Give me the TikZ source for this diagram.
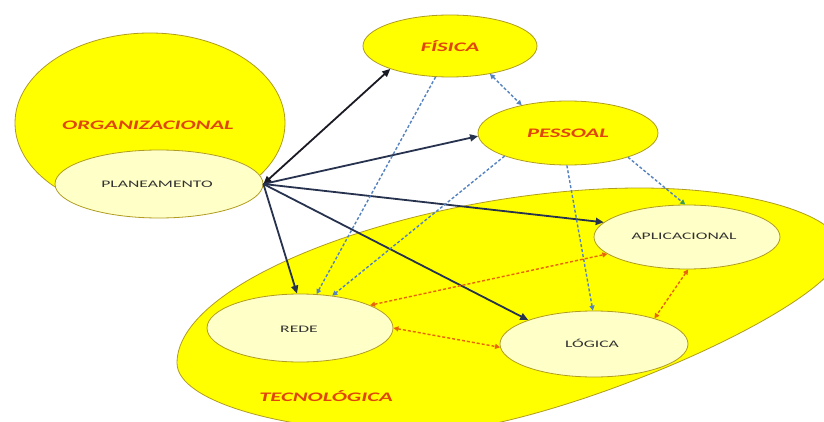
\documentclass[tikz,border=0pt]{standalone}
\usepackage{fontspec}
\setmainfont{Carlito}
\usetikzlibrary{shapes.geometric,arrows.meta}

\definecolor{bigyellow}{HTML}{FFFF00}
\definecolor{paleyellow}{HTML}{FFFFC8}
\definecolor{rimolive}{HTML}{B09C20}
\definecolor{labelred}{HTML}{E0460C}
\definecolor{navy}{HTML}{26324E}
\definecolor{inkblack}{HTML}{1A1A24}
\definecolor{dashblue}{HTML}{5683C0}
\definecolor{dashorange}{HTML}{E8650A}
\definecolor{tipgreen}{HTML}{3C9A55}

\tikzset{
  area/.style={ellipse, fill=bigyellow, draw=rimolive, line width=0.8pt, inner sep=0pt},
  areafill/.style={fill=bigyellow, draw=rimolive, line width=0.8pt},
  sub/.style={ellipse, fill=paleyellow, draw=rimolive, line width=0.8pt, inner sep=0pt},
  areafont/.style={font=\fontsize{13}{13}\selectfont\bfseries\itshape, text=labelred},
  areatext/.style={areafont, inner sep=0pt},
  subtext/.style={font=\fontsize{10}{10}\selectfont, text=black!80, inner sep=0pt},
  link/.style={navy, line width=1.8pt, -{Triangle[length=8pt,width=7pt]}},
  boldlink/.style={inkblack, line width=1.8pt, {Triangle[length=8pt,width=7pt]}-{Triangle[length=8pt,width=7pt]}},
  bluedash/.style={dashblue, line width=1.4pt, dash pattern=on 3pt off 2pt, -{Triangle[length=5pt,width=5pt]}},
  bluedashboth/.style={bluedash, {Triangle[length=5pt,width=5pt]}-{Triangle[length=5pt,width=5pt]}},
  orangedash/.style={dashorange, line width=1.4pt, dash pattern=on 3pt off 2pt, {Triangle[length=5pt,width=5pt]}-{Triangle[length=5pt,width=5pt]}}
}

\begin{document}
\begin{tikzpicture}[x=1pt,y=1pt]
  \useasboundingbox (0,0) rectangle (824,421);
  \clip (0,0) rectangle (824,421);
  \fill[white] (0,0) rectangle (824,421);

  % organisational area
  \node[area, minimum width=270pt, minimum height=180pt] (org) at (150,298) {};
  \node[areatext] (orglabel) at (148,296) {\scalebox{1.74}[1]{ORGANIZACIONAL}};

  % technological area (tilted oval, four Bezier quarters)
  \draw[areafill] (177,58)
    .. controls (177,145.5) and (431.65,233) .. (640,233)
    .. controls (751.5,233) and (842,205.2) .. (842,171)
    .. controls (842,116) and (546.6,-12) .. (420,-12)
    .. controls (285.9,-12) and (177,19.4) .. (177,58) -- cycle;
  \node[areatext] (teclabel) at (326,25) {\scalebox{1.74}[1]{TECNOLÓGICA}};

  % physical and personal areas
  \node[area, areafont, minimum width=174pt, minimum height=62pt] (fis) at (450,375)
    {\scalebox{1.74}[1]{FÍSICA}};
  \node[area, areafont, minimum width=180pt, minimum height=64pt] (pes) at (568,288)
    {\scalebox{1.74}[1]{PESSOAL}};

  % sub-areas
  \node[sub, minimum width=208pt, minimum height=68pt] (plan) at (159,237) {};
  \node[subtext] (planlabel) at (157,237) {\scalebox{1.76}[1]{PLANEAMENTO}};
  \node[sub, minimum width=186pt, minimum height=68pt] (rede) at (300,93) {};
  \node[subtext] (redelabel) at (299,92) {\scalebox{1.76}[1]{REDE}};
  \node[sub, minimum width=188pt, minimum height=66pt] (log) at (594,77) {};
  \node[subtext] (loglabel) at (592,78) {\scalebox{1.76}[1]{LÓGICA}};
  \node[sub, minimum width=186pt, minimum height=64pt] (apl) at (687,184) {};
  \node[subtext] (apllabel) at (684,185) {\scalebox{1.76}[1]{APLICACIONAL}};

  % planning links
  \draw[boldlink] (plan.east) -- (fis.201);
  \draw[link] (plan.east) -- (pes.182);
  \draw[link] (plan.east) -- (apl.170);
  \draw[link] (plan.east) -- (log.160);
  \draw[link] (plan.east) -- (rede.95);

  % dependencies
  \draw[bluedash] (fis.245) -- (rede.64);
  \draw[bluedash] (pes.200) -- (rede.45);
  \draw[bluedashboth] (fis.325) -- (pes.149);
  \draw[bluedash] (pes.268) -- (log.92);
  \draw[bluedash, -{Triangle[length=5pt,width=5pt,color=tipgreen]}] (pes.338) -- (apl.93);

  % technology interactions
  \draw[orangedash] (rede.18) -- (apl.192);
  \draw[orangedash] (rede.east) -- (log.182);
  \draw[orangedash] (apl.272) -- (log.23);
\end{tikzpicture}
\end{document}
